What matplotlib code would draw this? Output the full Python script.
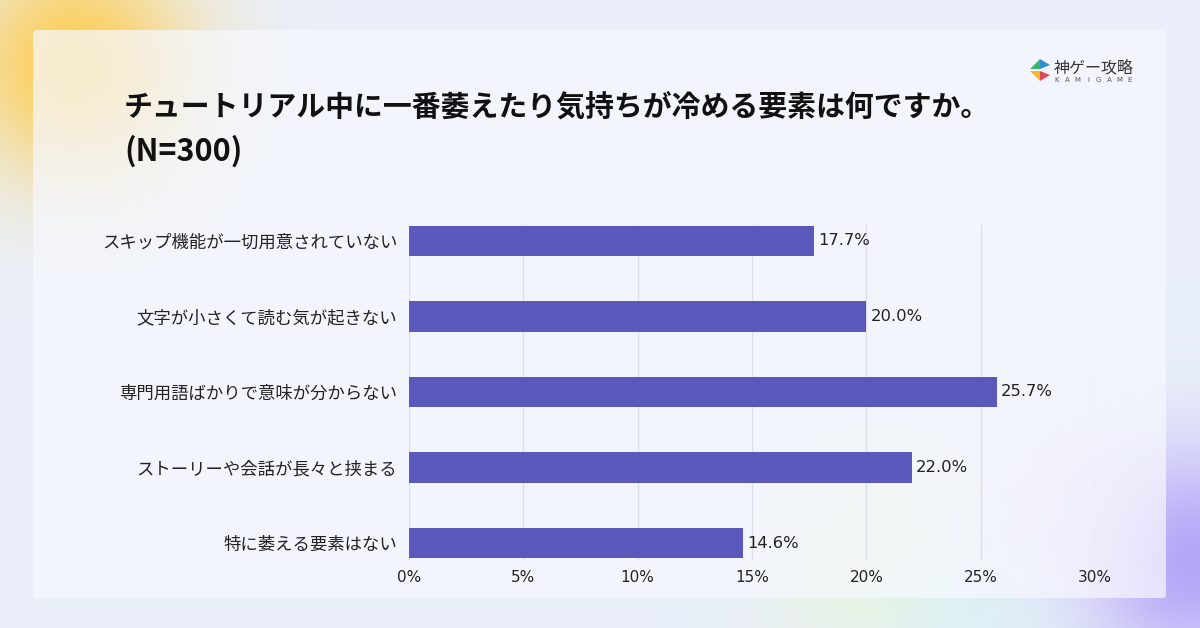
import numpy as np
import matplotlib
matplotlib.use("Agg")
import matplotlib.pyplot as plt
from matplotlib.patches import FancyBboxPatch, Polygon

plt.rcParams['font.family'] = ['Noto Sans CJK JP', 'DejaVu Sans']

categories = [
    "スキップ機能が一切用意されていない",
    "文字が小さくて読む気が起きない",
    "専門用語ばかりで意味が分からない",
    "ストーリーや会話が長々と挟まる",
    "特に萎える要素はない",
]
values = [17.7, 20.0, 25.7, 22.0, 14.6]
xticks = [0, 5, 10, 15, 20, 25, 30]
xtick_labels = ["0%", "5%", "10%", "15%", "20%", "25%", "30%"]
title_line1 = "チュートリアル中に一番萎えたり気持ちが冷める要素は何ですか。"
title_line2 = "(N=300)"

W, H = 1200, 628
fig = plt.figure(figsize=(12, 6.28), dpi=100)

# ---- background with soft blobs ----
bg = fig.add_axes([0, 0, 1, 1])
yy, xx = np.mgrid[0:H, 0:W]
img = np.ones((H, W, 3)) * np.array([0.918, 0.941, 0.980])

def blob(cx, cy, r, color, strength):
    global img
    d2 = ((xx - cx) ** 2 + (yy - cy) ** 2) / (r ** 2)
    a = strength * np.exp(-d2)
    img = img * (1 - a[..., None]) + np.array(color) * a[..., None]

blob(75, 65, 115, (1.0, 0.80, 0.30), 0.95)
blob(1190, 560, 110, (0.68, 0.62, 0.97), 0.9)
blob(880, 560, 110, (0.93, 0.97, 0.80), 0.6)
blob(1060, 520, 70, (0.93, 0.85, 0.98), 0.5)
blob(960, 610, 90, (0.82, 0.94, 0.98), 0.5)
bg.imshow(np.clip(img, 0, 1), extent=[0, W, H, 0], aspect='auto', zorder=0)
bg.set_xlim(0, W)
bg.set_ylim(H, 0)
bg.axis('off')

panel = FancyBboxPatch((33, 30), 1133, 568, boxstyle="round,pad=0,rounding_size=4",
                       facecolor=(0.965, 0.973, 0.995), edgecolor='none', alpha=0.72, zorder=1)
bg.add_patch(panel)

# ---- logo ----
lx, ly = 1040, 70
bg.add_patch(Polygon([(lx - 10, ly - 1), (lx, ly - 11), (lx, ly - 1)], closed=True, facecolor='#3bb56a', edgecolor='none', zorder=3))
bg.add_patch(Polygon([(lx, ly - 11), (lx + 10, ly - 5), (lx, ly - 1)], closed=True, facecolor='#2f8fd8', edgecolor='none', zorder=3))
bg.add_patch(Polygon([(lx - 10, ly + 1), (lx, ly + 1), (lx, ly + 11)], closed=True, facecolor='#f2b72f', edgecolor='none', zorder=3))
bg.add_patch(Polygon([(lx, ly + 1), (lx + 10, ly + 5), (lx, ly + 11)], closed=True, facecolor='#e0485a', edgecolor='none', zorder=3))
bg.text(1054, 68, "神ゲー攻略", fontsize=11.5, color='#333333', va='center', ha='left', zorder=3)
for i, ch in enumerate("KAMIGAME"):
    bg.text(1057 + i * 10.4, 80.5, ch, fontsize=5, color='#555555', va='center', ha='center', zorder=3,
            family=['DejaVu Sans'])

# ---- title ----
bg.text(124, 107, title_line1, fontsize=20.8, fontweight='bold', color='#111111', va='center', ha='left', zorder=3)
bg.text(124, 151, title_line2, fontsize=22, fontweight='bold', color='#111111', va='center', ha='left', zorder=3)

# ---- chart ----
ax = fig.add_axes([409 / W, 1 - 560 / H, 686 / W, 335 / H])
ax.patch.set_alpha(0)
y = np.arange(len(categories))
ax.barh(y, values, height=0.4, color='#5b58bc', zorder=3)
for yi, v in zip(y, values):
    ax.text(v + 0.18, yi, f"{v:.1f}%", va='center', ha='left', fontsize=11.8, color='#222222', zorder=4,
            family=['DejaVu Sans'])
ax.set_xlim(0, 30)
ax.set_ylim(4.225, -0.21)
ax.set_xticks(xticks)
ax.set_xticklabels(xtick_labels, fontsize=11, color='#222222', family=['DejaVu Sans'])
ax.set_yticks(y)
ax.set_yticklabels(categories, fontsize=12.5, color='#222222')
ax.tick_params(axis='both', length=0)
ax.tick_params(axis='x', pad=7)
ax.tick_params(axis='y', pad=8.5)
ax.grid(axis='x', color='#dcdde6', linewidth=0.9, zorder=0)
for s in ax.spines.values():
    s.set_visible(False)

fig.savefig("out.png", dpi=100)
